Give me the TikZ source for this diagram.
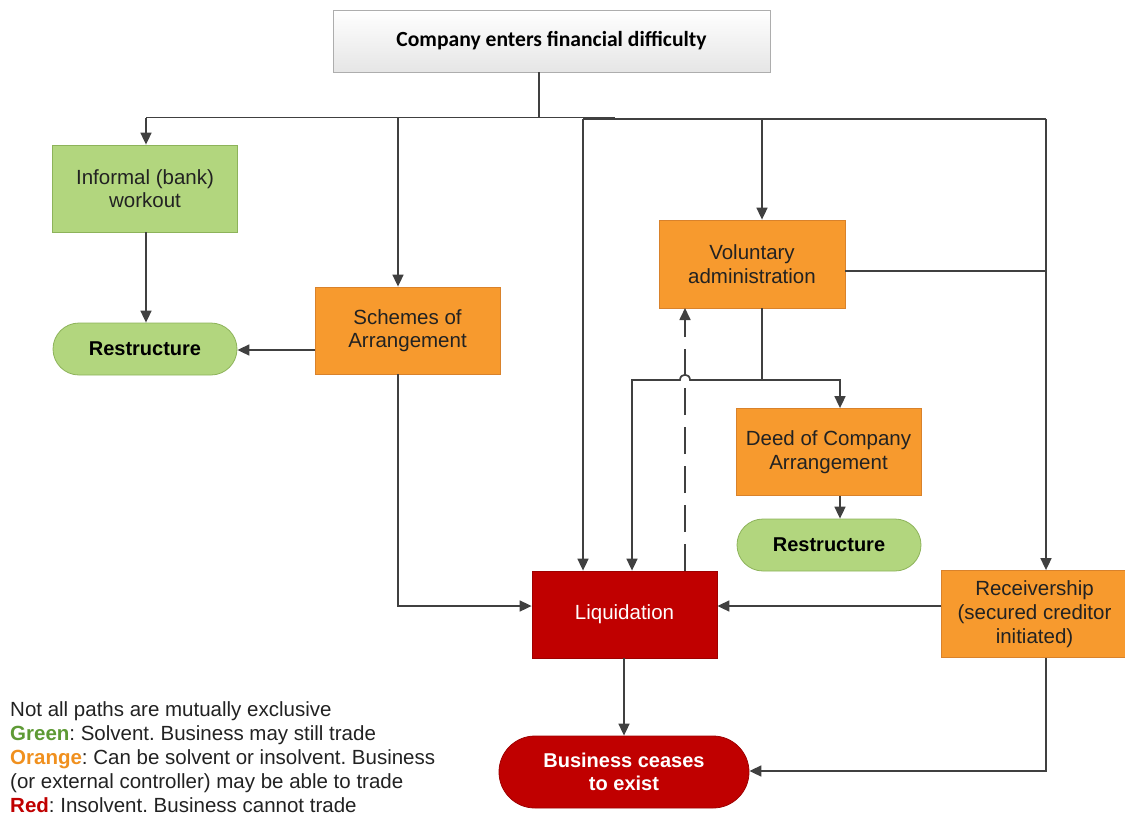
\documentclass[tikz,border=0pt]{standalone}
\usepackage{fontspec}
\setmainfont{Liberation Sans}
\newfontfamily\calibri{Carlito}
\usetikzlibrary{arrows.meta,calc}
\definecolor{lin}{HTML}{404040}
\definecolor{gfill}{HTML}{B2D67E}
\definecolor{gline}{HTML}{8DB35A}
\definecolor{ofill}{HTML}{F79A2E}
\definecolor{oline}{HTML}{D9822B}
\definecolor{rfill}{HTML}{C00000}
\definecolor{rline}{HTML}{9E0000}
\definecolor{txt}{HTML}{222222}
\definecolor{lgreen}{HTML}{5E9A35}
\definecolor{lorange}{HTML}{F0901E}
\frenchspacing
\begin{document}
\begin{tikzpicture}[x=1pt,y=-1pt,
 font=\fontsize{20.5}{23.5}\selectfont,
 box/.style={draw, minimum width=185pt, minimum height=87pt, inner sep=2pt, align=center, line width=0.8pt, text=txt},
 gbox/.style={box, fill=gfill, draw=gline},
 obox/.style={box, fill=ofill, draw=oline},
 rbox/.style={box, fill=rfill, draw=rline, text=white},
 pill/.style={draw, rounded corners=26pt, minimum width=184pt, minimum height=52pt, inner sep=2pt, align=center, font=\fontsize{20}{23.5}\selectfont\bfseries, line width=0.8pt},
 conn/.style={draw=lin, line width=1.7pt},
 arr/.style={conn, -{Triangle[length=12pt,width=11pt]}},
 leg/.style={anchor=base west, inner sep=0pt, text=txt},
]
\useasboundingbox (0,0) rectangle (1125,820);

% nodes
\node[draw=black!32, top color=white, bottom color=black!10, minimum width=437pt, minimum height=62pt, line width=0.8pt,
      font=\calibri\bfseries\fontsize{21.6}{24}\selectfont, text=black] (top) at (551.5,41) {Company enters financial difficulty};
\node[gbox] (inf) at (145,188.5) {Informal (bank)\\workout};
\node[pill, fill=gfill, draw=gline, text=black] (res1) at (145,349) {Restructure};
\node[obox] (sch) at (407.5,330.5) {Schemes of\\Arrangement};
\node[obox, minimum width=186pt, minimum height=88pt] (va) at (752,264) {Voluntary\\administration};
\node[obox] (doca) at (828.5,452) {Deed of Company\\Arrangement};
\node[pill, fill=gfill, draw=gline, text=black] (res2) at (829,545) {Restructure};
\node[rbox] (liq) at (624.5,614.5) {Liquidation};
\node[obox, minimum width=186pt, font=\fontsize{20.5}{24}\selectfont] (rec) at (1034.5,614) {Receivership\\(secured creditor\\initiated)};
\node[pill, fill=rfill, draw=rline, text=white, rounded corners=36pt, minimum width=250pt, minimum height=72pt] (bce) at (624,772) {Business ceases\\to exist};

% coordinates
\coordinate (tout) at (539,72);
\coordinate (tj) at (539,117.5);
\coordinate (jl) at (146,117.5);
\coordinate (jr) at (615,117.5);
\coordinate (j2l) at (583,119);
\coordinate (j2r) at (1046,119);
\coordinate (bs) at (398,117.5);
\coordinate (bv) at (762,119);
\coordinate (sout) at (398,374);
\coordinate (scorner) at (398,606);
\coordinate (vaout) at (762,308);
\coordinate (vj) at (762,380);
\coordinate (vl) at (632,380);
\coordinate (vr) at (840,380);
\coordinate (hop1) at (680,380);
\coordinate (hop2) at (690,380);
\coordinate (vaeast) at (845,271);
\coordinate (reast) at (1046,271);
\coordinate (recout) at (1046,658);
\coordinate (reccorner) at (1046,771);
\coordinate (dashs) at (685,571);
\coordinate (dashe) at (685,308);

% trunk
\draw[conn] (tout) -- (tj);
\draw[conn] (jl) -- (jr);
\draw[conn] (j2l) -- (j2r);
\draw[arr] (jl) -- (jl |- inf.north);
\draw[arr] (bs) -- (bs |- sch.north);
\draw[arr] (j2l) -- (j2l |- liq.north);
\draw[arr] (bv) -- (bv |- va.north);
\draw[arr] (j2r) -- (j2r |- rec.north);

% left side
\draw[arr] (inf.south -| jl) -- (res1.north -| jl);
\draw[arr] (sch.west |- 0,350) -- (res1.east |- 0,350);
\draw[arr] (sout) -- (scorner) -- (scorner -| liq.west);

% voluntary administration
\draw[conn] (vaeast) -- (reast);
\draw[conn] (vaout) -- (vj);
\draw[arr] (vj) -- (vr) -- (vr |- doca.north);
\draw[arr] (vj) -- (hop2) .. controls (690,373) and (680,373) .. (hop1) -- (vl) -- (vl |- liq.north);
\draw[arr, dash pattern=on 27pt off 12pt] (dashs) -- (dashe);
\draw[arr] (doca.south -| vr) -- (res2.north -| vr);

% liquidation and receivership
\draw[arr] (rec.west |- scorner) -- (liq.east |- scorner);
\draw[arr] (liq.south -| bce.north) -- (bce.north);
\draw[arr] (recout) -- (reccorner) -- (reccorner -| bce.east);

% legend
\node[leg] (l1) at (10,716) {Not all paths are mutually exclusive};
\node[leg] (l2) at (10,740) {\textcolor{lgreen}{\bfseries Green}: Solvent. Business may still trade};
\node[leg] (l3) at (10,764) {\textcolor{lorange}{\bfseries Orange}: Can be solvent or insolvent. Business};
\node[leg] (l4) at (10,788) {(or external controller) may be able to trade};
\node[leg] (l5) at (10,812) {\textcolor{rfill}{\bfseries Red}: Insolvent. Business cannot trade};
\end{tikzpicture}
\end{document}
